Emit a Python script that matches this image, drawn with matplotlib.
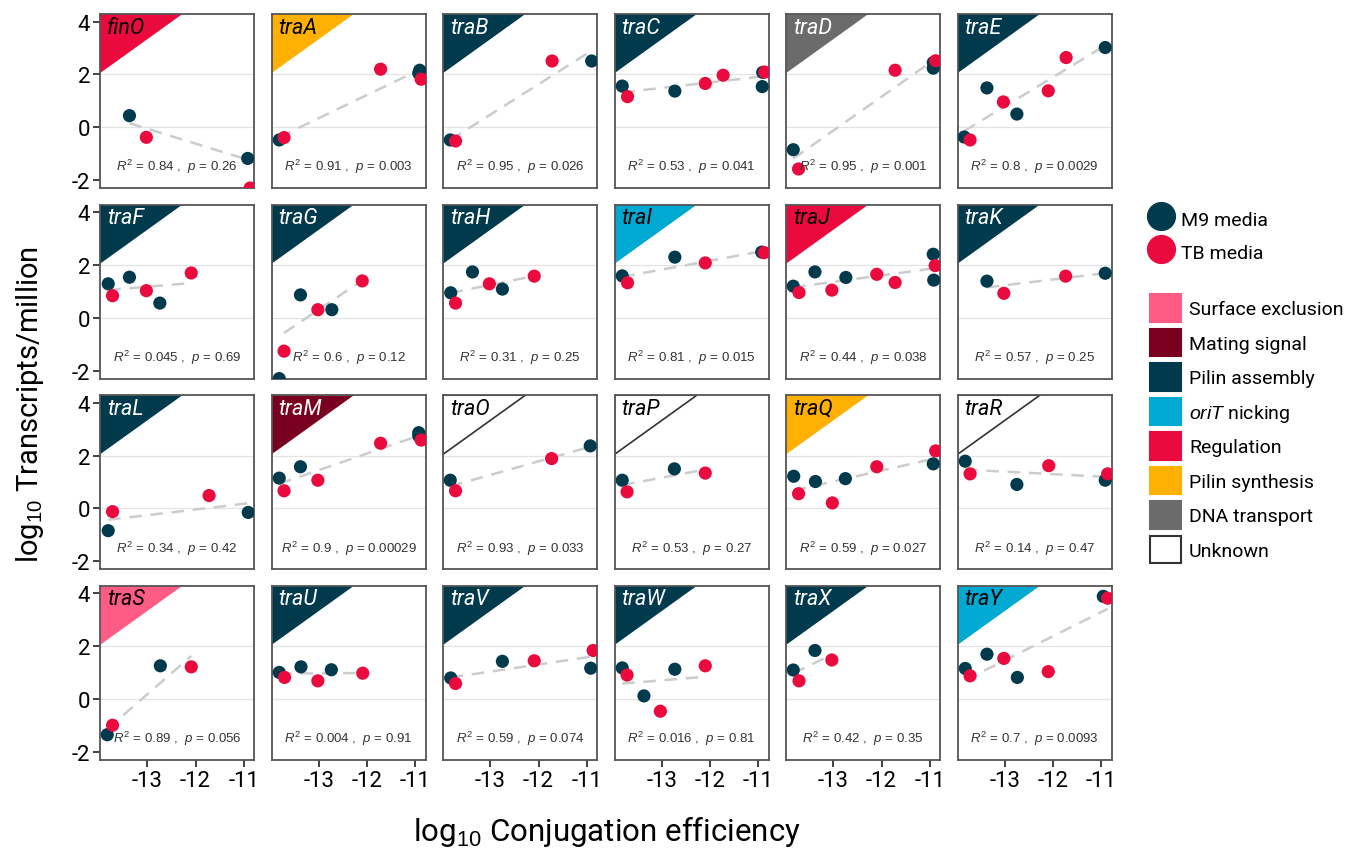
import matplotlib
matplotlib.use('Agg')
import matplotlib.pyplot as plt
import numpy as np
from matplotlib.patches import Polygon, Patch
from matplotlib.lines import Line2D

plt.rcParams['font.family'] = ['Roboto', 'DejaVu Sans']
plt.rcParams['mathtext.fontset'] = 'custom'
plt.rcParams['mathtext.rm'] = 'Liberation Sans'
plt.rcParams['mathtext.it'] = 'Liberation Sans:italic'

genes = ['finO', 'traA', 'traB', 'traC', 'traD', 'traE',
         'traF', 'traG', 'traH', 'traI', 'traJ', 'traK',
         'traL', 'traM', 'traO', 'traP', 'traQ', 'traR',
         'traS', 'traU', 'traV', 'traW', 'traX', 'traY']
roles = ['Regulation', 'Pilin synthesis', 'Pilin assembly', 'Pilin assembly', 'DNA transport', 'Pilin assembly',
         'Pilin assembly', 'Pilin assembly', 'Pilin assembly', 'oriT nicking', 'Regulation', 'Pilin assembly',
         'Pilin assembly', 'Mating signal', 'Unknown', 'Unknown', 'Pilin synthesis', 'Unknown',
         'Surface exclusion', 'Pilin assembly', 'Pilin assembly', 'Pilin assembly', 'Pilin assembly', 'oriT nicking']
r2 = ['0.84', '0.91', '0.95', '0.53', '0.95', '0.8',
      '0.045', '0.6', '0.31', '0.81', '0.44', '0.57',
      '0.34', '0.9', '0.93', '0.53', '0.59', '0.14',
      '0.89', '0.004', '0.59', '0.016', '0.42', '0.7']
pval = ['0.26', '0.003', '0.026', '0.041', '0.001', '0.0029',
        '0.69', '0.12', '0.25', '0.015', '0.038', '0.25',
        '0.42', '0.00029', '0.033', '0.27', '0.027', '0.47',
        '0.056', '0.91', '0.074', '0.81', '0.35', '0.0093']

inf = -np.inf  # log10(0) -> drawn on the panel edge, left out of the fit
m9_x = [[-13.37, -10.92], [-13.82, -10.93, -10.91], [-13.83, -10.90], [-13.82, -12.73, -10.91, -10.92],
        [-13.83, -10.93, -10.93], [-13.84, -13.37, -12.75, -10.92],
        [-13.81, -13.37, -12.74], [-13.82, -13.38, -12.73], [-13.82, -13.37, -12.75], [-13.82, -12.73, -10.93],
        [-13.83, -13.38, -12.74, -10.93, -10.92], [-13.37, -10.92],
        [-13.81, -10.91], [-13.82, -13.38, -10.93, -10.93], [-13.83, -10.93], [-13.82, -12.74],
        [-13.82, -13.37, -12.75, -10.93], [-13.82, -12.75, -10.92],
        [-13.83, -12.73], [-13.82, -13.37, -12.74], [-13.82, -12.75, -10.92], [-13.82, -13.37, -12.73],
        [-13.83, -13.38], [-13.82, -13.37, -12.74, -10.96]]
m9_y = [[0.44, -1.18], [-0.48, 2.05, 2.16], [-0.48, 2.51], [1.56, 1.37, 2.08, 1.54],
        [-0.85, 2.24, 2.45], [-0.37, 1.49, 0.50, 3.02],
        [1.29, 1.54, 0.56], [inf, 0.87, 0.31], [0.95, 1.74, 1.09], [1.59, 2.30, 2.49],
        [1.20, 1.74, 1.53, 2.41, 1.43], [1.39, 1.69],
        [-0.84, -0.15], [1.15, 1.58, 2.87, 2.75], [1.07, 2.37], [1.07, 1.50],
        [1.22, 1.02, 1.13, 1.69], [1.79, 0.91, 1.07],
        [-1.35, 1.26], [1.01, 1.22, 1.11], [0.80, 1.43, 1.17], [1.18, 0.12, 1.13],
        [1.10, 1.84], [1.16, 1.70, 0.82, 3.89]]
tb_x = [[-13.02, -10.87], [-13.72, -11.72, -10.88], [-13.72, -11.72], [-13.71, -12.10, -11.73, -10.87],
        [-13.72, -11.72, -10.88], [-13.72, -13.03, -12.10, -11.73],
        [-13.72, -13.02, -12.09], [-13.72, -13.02, -12.10], [-13.72, -13.02, -12.09], [-13.71, -12.10, -10.88],
        [-13.71, -13.03, -12.10, -11.72, -10.89], [-13.02, -11.74],
        [-13.72, -11.72], [-13.72, -13.02, -11.72, -10.88], [-13.72, -11.73], [-13.72, -12.10],
        [-13.72, -13.02, -12.10, -10.88], [-13.72, -12.09, -10.87],
        [-13.72, -12.09], [-13.71, -13.02, -12.09], [-13.72, -12.09, -10.87], [-13.72, -13.03, -12.10],
        [-13.71, -13.03], [-13.72, -13.02, -12.10, -10.87]]
tb_y = [[-0.38, inf], [-0.39, 2.20, 1.82], [-0.52, 2.51], [1.16, 1.66, 1.97, 2.09],
        [-1.58, 2.16, 2.52], [-0.48, 0.96, 1.38, 2.64],
        [0.84, 1.03, 1.70], [-1.26, 0.31, 1.40], [0.56, 1.29, 1.58], [1.33, 2.08, 2.47],
        [0.96, 1.05, 1.65, 1.34, 1.98], [0.93, 1.58],
        [-0.12, 0.49], [0.67, 1.07, 2.47, 2.59], [0.67, 1.89], [0.63, 1.34],
        [0.56, 0.21, 1.58, 2.18], [1.31, 1.62, 1.31],
        [-0.99, 1.22], [0.82, 0.69, 0.98], [0.59, 1.45, 1.84], [0.91, -0.46, 1.26],
        [0.69, 1.48], [0.88, 1.54, 1.04, 3.82]]

role_names = ['Surface exclusion', 'Mating signal', 'Pilin assembly', 'oriT nicking',
              'Regulation', 'Pilin synthesis', 'DNA transport', 'Unknown']
role_colors = ['#FF5C85', '#7A0020', '#013A4D', '#00A9D1', '#EA0A3E', '#FFB000', '#6B6B6B', 'white']
role_text = ['black', 'white', 'white', 'black', 'black', 'black', 'white', 'black']
m9_col = '#013A4D'
tb_col = '#EA0A3E'

W, H = 1352, 853
fig = plt.figure(figsize=(W / 100, H / 100), dpi=100)
ylo, yhi = -2.3, 4.29

for i, g in enumerate(genes):
    r, c = divmod(i, 6)
    left = 100 + 171.5 * c
    top = 15 + 190.6 * r
    ax = fig.add_axes([left / W, 1 - (top + 174) / H, 154 / W, 174 / H])
    ax.set_xlim(-13.98, -10.79)
    ax.set_ylim(ylo, yhi)
    for yg in (0, 2):
        ax.axhline(yg, color='#e4e4e4', lw=0.9, zorder=0)

    k = role_names.index(roles[i])
    tri = Polygon([(0, 1), (0.535, 1), (0, 0.66)], closed=True, transform=ax.transAxes,
                  facecolor=role_colors[k], edgecolor='#333333' if roles[i] == 'Unknown' else 'none',
                  lw=1.2, zorder=1)
    ax.add_patch(tri)
    ax.text(0.045, 0.985, g, transform=ax.transAxes, ha='left', va='top', fontsize=15.5,
            style='italic', color=role_text[k], zorder=2)

    xs = np.array(m9_x[i] + tb_x[i])
    ys = np.array(m9_y[i] + tb_y[i])
    ok = np.isfinite(ys)
    slope, icpt = np.polyfit(xs[ok], ys[ok], 1)
    xx = np.array([xs[ok].min(), xs[ok].max()])
    ax.plot(xx, slope * xx + icpt, ls=(0, (5, 3.5)), color='#cccccc', lw=1.8, zorder=2)

    for px, py, col in ((m9_x[i], m9_y[i], m9_col), (tb_x[i], tb_y[i], tb_col)):
        py = np.array(py)
        py = np.where(np.isfinite(py), py, ylo)
        ax.scatter(px, py, s=90, color=col, edgecolors='none', zorder=3)

    ax.text(0.5, 0.125, rf"$R^2$ = {r2[i]} ,  $p$ = {pval[i]}", transform=ax.transAxes,
            ha='center', va='center', fontsize=9.5, color='#333333',
            family=['Liberation Sans', 'DejaVu Sans'], zorder=4)

    for sp in ax.spines.values():
        sp.set_color('#555555')
        sp.set_linewidth(1.3)
    ax.tick_params(length=5, width=1.3, color='#333333', labelsize=16, pad=2)
    ax.set_yticks([-2, 0, 2, 4])
    ax.set_xticks([-13, -12, -11])
    ax.set_yticklabels(['-2', '0', '2', '4'])
    ax.set_xticklabels(['-13', '-12', '-11'])
    if c != 0:
        ax.tick_params(left=False, labelleft=False)
    if r != 3:
        ax.tick_params(bottom=False, labelbottom=False)

fig.text(0.022, 1 - 405 / H, r'log$_{10}$ Transcripts/million', rotation=90,
         ha='center', va='center', fontsize=21)
fig.text(607 / W, 1 - 832 / H, r'log$_{10}$ Conjugation efficiency',
         ha='center', va='center', fontsize=22.5)

pt_handles = [Line2D([], [], ls='none', marker='o', markersize=20, color=m9_col),
              Line2D([], [], ls='none', marker='o', markersize=20, color=tb_col)]
leg1 = fig.legend(pt_handles, ['M9 media', 'TB media'], loc='upper left',
                  bbox_to_anchor=(1146 / W, 1 - 208 / H), frameon=False, fontsize=14,
                  handlelength=1.5, handleheight=1.5, handletextpad=0.3,
                  labelspacing=0.45, borderpad=0, borderaxespad=0)

labels = [r'$oriT$ nicking' if n == 'oriT nicking' else n for n in role_names]
sq_handles = [Patch(facecolor=fc, edgecolor='#333333' if n == 'Unknown' else fc, lw=1.5)
              for n, fc in zip(role_names, role_colors)]
leg2 = fig.legend(sq_handles, labels, loc='upper left',
                  bbox_to_anchor=(1150 / W, 1 - 295 / H), frameon=False, fontsize=14,
                  handlelength=1.6, handleheight=1.8, handletextpad=0.4,
                  labelspacing=0.36, borderpad=0, borderaxespad=0)

fig.savefig('out.png', dpi=100)
